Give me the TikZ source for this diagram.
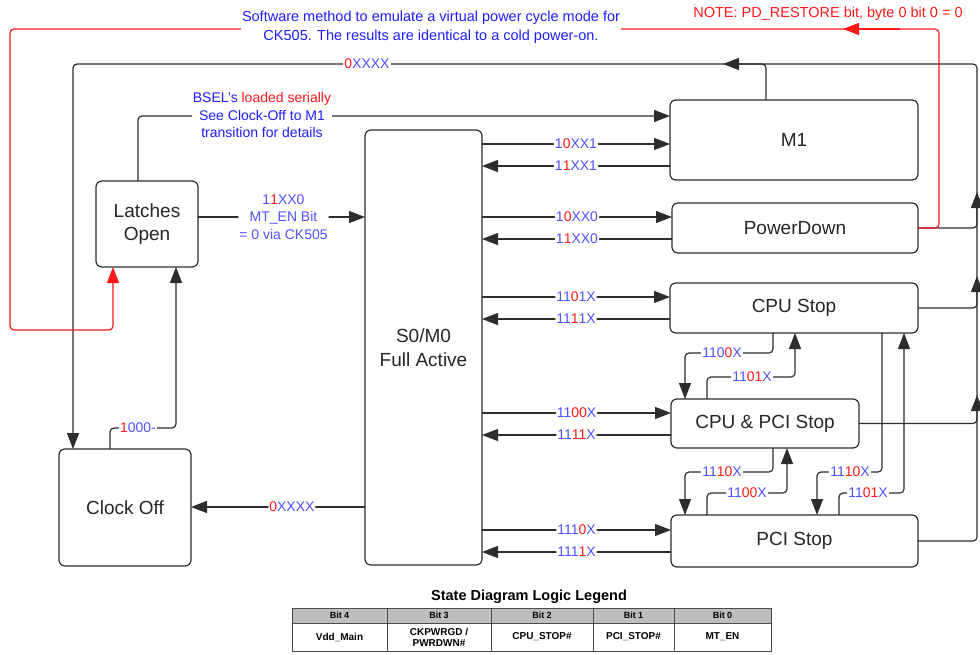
\documentclass[tikz,border=0pt]{standalone}
\usepackage{fontspec}
\setmainfont{Liberation Sans}
\usetikzlibrary{arrows.meta}
\definecolor{codeblue}{RGB}{80,80,255}
\definecolor{noteblue}{RGB}{30,30,255}
\definecolor{notered}{RGB}{255,25,25}
\definecolor{lineclr}{RGB}{45,45,45}
\definecolor{legendgray}{RGB}{190,190,190}
\newcommand{\rb}[1]{\textcolor{notered}{#1}}

\begin{document}
\begin{tikzpicture}[x=1pt,y=-1pt,
    state/.style={draw=lineclr, line width=1.2pt, rounded corners=6pt, inner sep=0pt, outer sep=0pt,
      align=center, text=black!85, font=\fontsize{19}{23.5}\selectfont},
    wire/.style={draw=lineclr, line width=1.2pt, rounded corners=4pt},
    arr/.style={wire, -{Triangle[length=16pt,width=12pt]}},
    redarr/.style={draw=notered, line width=1.2pt, rounded corners=4pt, -{Triangle[length=16pt,width=12pt]}},
    lbl/.style={fill=white, inner sep=1pt, text=codeblue, align=center, font=\fontsize{14}{17.5}\selectfont},
    note/.style={fill=white, inner sep=1pt, align=center, font=\fontsize{14.5}{19}\selectfont}]
  \useasboundingbox (0,0) rectangle (980,654);

  % states
  \node[state, minimum width=248, minimum height=80] (m1) at (794,140) {M1};
  \node[state, minimum width=246, minimum height=50] (pd) at (795,228) {PowerDown};
  \node[state, minimum width=248, minimum height=50] (cpu) at (794,308) {CPU Stop};
  \node[state, minimum width=188, minimum height=49] (cpupci) at (765,423.5) {CPU \& PCI Stop};
  \node[state, minimum width=247, minimum height=52] (pci) at (794.5,541) {PCI Stop};
  \node[state, minimum width=117, minimum height=435] (s0) at (423.5,347.5) {S0/M0\\Full Active};
  \node[state, minimum width=102, minimum height=86] (lat) at (147,224) {Latches\\Open};
  \node[state, minimum width=132, minimum height=117] (clk) at (125,507.5) {Clock Off};

  % return bus on the right and top loop
  \draw[arr] (pci.east) -| (977,64) -- (73,64) -- (clk.north -| 73,0);
  \draw[arr] (cpupci.east) -| (977,395);
  \draw[arr] (cpu.east) -| (977,276);
  \draw[arr] (pd.east) -| (977,192);
  \draw[arr] (m1.north -| 766,0) |- (723,64);
  \node[lbl] at (367,64) {\rb{0}XXXX};

  % red restore path
  \draw[redarr] (pd.east) -| (939,29) -- (10,29) |- (113,330) -- (lat.south -| 113,0);
  \draw[redarr] (900,29) -- (843,29);
  \node[note, text=notered, fill=none] at (828,14) {NOTE: PD\_RESTORE bit, byte 0 bit 0 = 0};
  \node[note, text=noteblue] at (431,27) {Software method to emulate a virtual power cycle mode for\\CK505. The results are identical to a cold power-on.};

  % latches open
  \draw[arr] (lat.north -| 138,0) |- (m1.west |- 0,116);
  \node[lbl, text=noteblue] at (262,115) {BSEL's \rb{loaded serially}\\See Clock-Off to M1\\transition for details};
  \draw[arr] (lat.east |- 0,217) -- (s0.west |- 0,217)
    node[lbl, midway, xshift=2] {1\rb{1}XX0\\MT\_EN Bit\\= 0 via CK505};
  \draw[arr] (clk.north -| 110,0) |- (176,428) -- (lat.south -| 176,0);
  \node[lbl] at (138,428) {\rb{1}000-};
  \draw[arr] (s0.west |- 0,507) -- (clk.east |- 0,507) node[lbl, pos=0.42] {\rb{0}XXXX};

  % S0/M0 to the low power states
  \draw[arr] (s0.east |- 0,144) -- (m1.west |- 0,144) node[lbl, midway] {1\rb{0}XX1};
  \draw[arr] (m1.west |- 0,166) -- (s0.east |- 0,166) node[lbl, midway] {1\rb{1}XX1};
  \draw[arr] (s0.east |- 0,217) -- (pd.west |- 0,217) node[lbl, midway] {1\rb{0}XX0};
  \draw[arr] (pd.west |- 0,239) -- (s0.east |- 0,239) node[lbl, midway] {1\rb{1}XX0};
  \draw[arr] (s0.east |- 0,297) -- (cpu.west |- 0,297) node[lbl, midway] {11\rb{0}1X};
  \draw[arr] (cpu.west |- 0,319) -- (s0.east |- 0,319) node[lbl, midway] {11\rb{1}1X};
  \draw[arr] (s0.east |- 0,413) -- (cpupci.west |- 0,413) node[lbl, midway] {11\rb{00}X};
  \draw[arr] (cpupci.west |- 0,435) -- (s0.east |- 0,435) node[lbl, midway] {11\rb{11}X};
  \draw[arr] (s0.east |- 0,530) -- (pci.west |- 0,530) node[lbl, midway] {111\rb{0}X};
  \draw[arr] (pci.west |- 0,552) -- (s0.east |- 0,552) node[lbl, midway] {111\rb{1}X};

  % between the stop states
  \draw[arr] (cpu.south -| 773,0) |- (685,353) -- (cpupci.north -| 685,0);
  \node[lbl] at (722,353) {110\rb{0}X};
  \draw[arr] (cpupci.north -| 707,0) |- (795,377) -- (cpu.south -| 795,0);
  \node[lbl] at (752,377) {11\rb{01}X};
  \draw[arr] (cpupci.south -| 773,0) |- (685,472) -- (pci.north -| 685,0);
  \node[lbl] at (722,472) {11\rb{10}X};
  \draw[arr] (pci.north -| 707,0) |- (787,493) -- (cpupci.south -| 787,0);
  \node[lbl] at (747,493) {11\rb{00}X};
  \draw[arr] (cpu.south -| 882,0) |- (817,472) -- (pci.north -| 817,0);
  \node[lbl] at (850,472) {11\rb{10}X};
  \draw[arr] (pci.north -| 839,0) |- (904,493) -- (cpu.south -| 904,0);
  \node[lbl] at (868,493) {11\rb{01}X};

  % legend
  \node[font=\bfseries\fontsize{14.5}{17}\selectfont] (legend) at (529,597) {State Diagram Logic Legend};
  \foreach \xa/\xb/\hd/\bt in {292/387/Bit 4/Vdd\_Main, 387/491/Bit 3/{CKPWRGD /\\PWRDWN\#},
      491/593/Bit 2/CPU\_STOP\#, 593/674/Bit 1/PCI\_STOP\#, 674/771/Bit 0/MT\_EN} {
    \draw[draw=black!70, line width=0.8pt, fill=legendgray] (\xa,608) rectangle (\xb,623);
    \draw[draw=black!70, line width=0.8pt] (\xa,623) rectangle (\xb,651);
    \node[font=\bfseries\fontsize{9}{10}\selectfont] at ({(\xa+\xb)/2},615.5) {\hd};
    \node[align=center, font=\bfseries\fontsize{10}{11}\selectfont] at ({(\xa+\xb)/2},637) {\bt};
  }
\end{tikzpicture}
\end{document}
